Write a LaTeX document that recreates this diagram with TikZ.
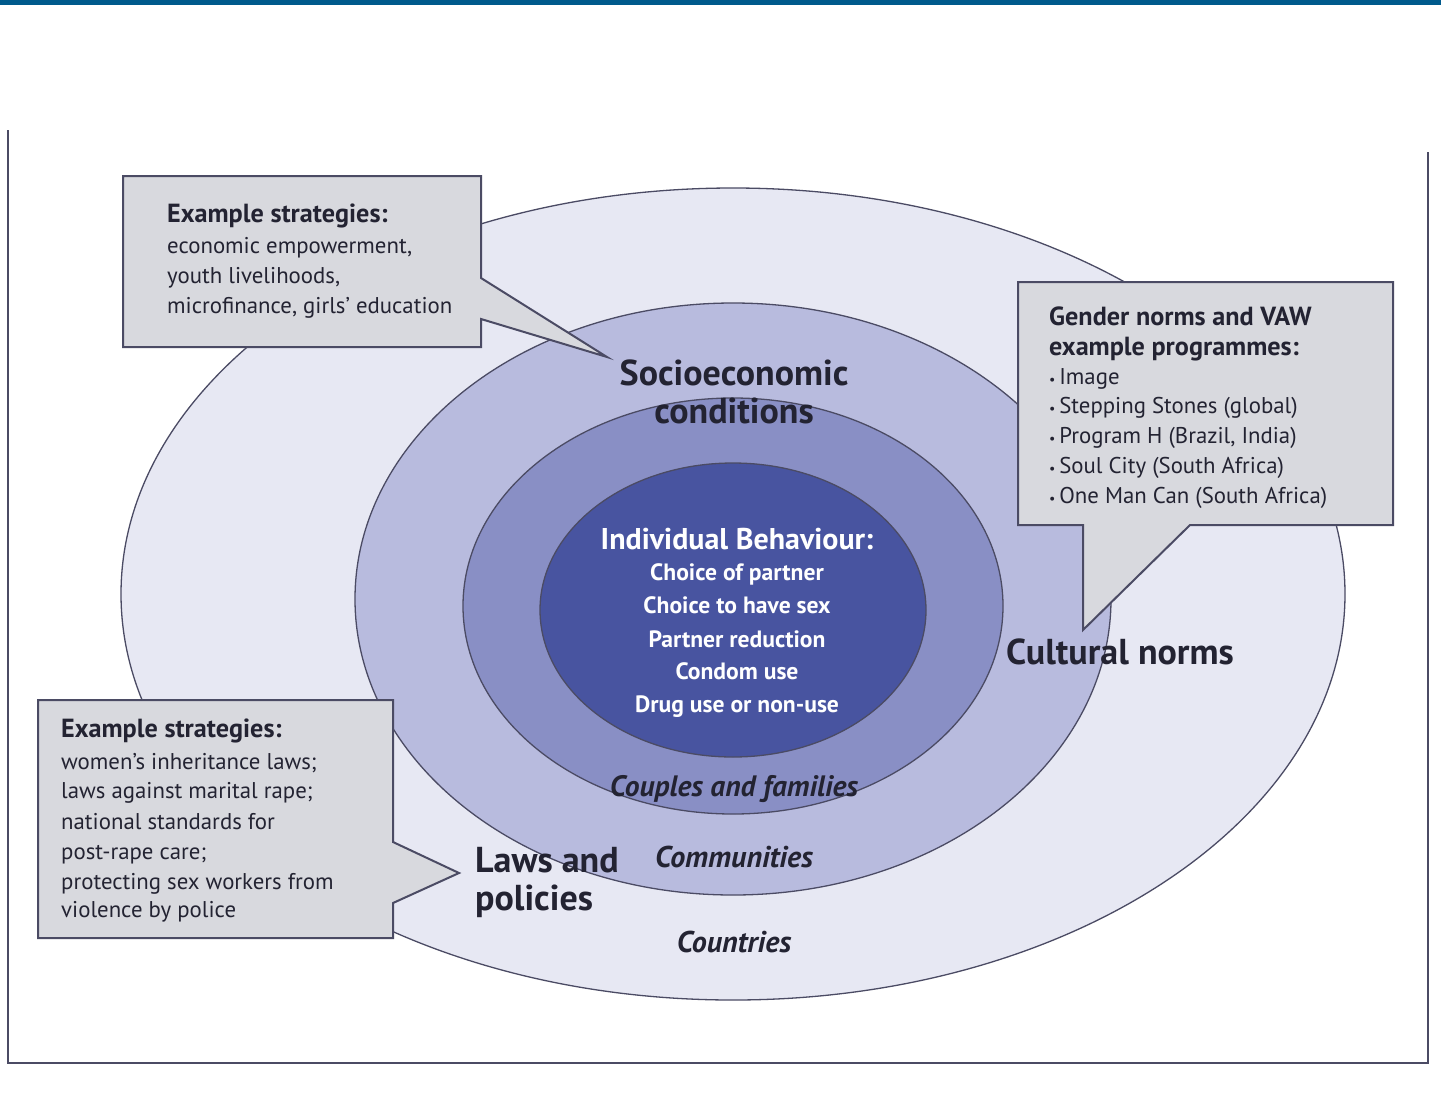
\documentclass[tikz,border=0pt]{standalone}
\usepackage{fontspec}
\setmainfont{PT Sans}
\definecolor{ringA}{RGB}{231,232,243}
\definecolor{ringB}{RGB}{184,187,222}
\definecolor{ringC}{RGB}{137,143,197}
\definecolor{ringD}{RGB}{72,84,160}
\definecolor{boxfill}{RGB}{216,217,222}
\definecolor{edge}{RGB}{75,75,100}
\definecolor{ink}{RGB}{35,35,50}
\definecolor{topbar}{RGB}{0,90,140}
\begin{document}
\begin{tikzpicture}[x=1pt,y=-1pt,
  ring/.style={draw=edge,line width=1.3pt},
  callout/.style={draw=edge,line width=2pt,fill=boxfill,line join=miter},
  boxtxt/.style={anchor=base west,inner sep=0pt,text=ink,font=\fontsize{22.8}{26}\selectfont},
  boxhead/.style={boxtxt,font=\fontsize{26.2}{29}\selectfont\bfseries},
  biglab/.style={inner sep=0pt,text=ink,font=\fontsize{36}{40}\selectfont\bfseries},
  inwhite/.style={anchor=base,inner sep=0pt,text=white,font=\fontsize{23.6}{26}\selectfont\bfseries},
  levlab/.style={anchor=base,inner sep=0pt,text=ink,font=\fontsize{30}{34}\selectfont\bfseries\itshape}]
\useasboundingbox (0,0) rectangle (1441,1096);
\fill[white] (0,0) rectangle (1441,1096);
\fill[topbar] (0,0) rectangle (1441,5);
% frame
\draw[edge,line width=2pt] (8,130) -- (8,1063) -- (1428,1063) -- (1428,152);
% rings
\draw[ring,fill=ringA] (733,594) ellipse [x radius=612,y radius=406];
\draw[ring,fill=ringB] (733,599) ellipse [x radius=378,y radius=296];
\draw[ring,fill=ringC] (733,606) ellipse [x radius=270,y radius=208];
\draw[ring,fill=ringD] (733,610) ellipse [x radius=193,y radius=147];
% callouts
\draw[callout] (123,176) -- (481,176) -- (481,278) -- (607,357) -- (481,319) -- (481,347) -- (123,347) -- cycle;
\draw[callout] (1018,282) -- (1393,282) -- (1393,525) -- (1190,525) -- (1083,630) -- (1083,525) -- (1018,525) -- cycle;
\draw[callout] (38,700) -- (393,700) -- (393,842) -- (459,873) -- (393,903) -- (393,938) -- (38,938) -- cycle;
% top-left text
\node[boxhead] (tl1) at (167,222) {Example strategies:};
\node[boxtxt] (tl2) at (167,253) {economic empowerment,};
\node[boxtxt] (tl3) at (167,283) {youth livelihoods,};
\node[boxtxt] (tl4) at (167,313) {microfinance, girls’ education};
% right text
\node[boxhead] (r1) at (1049,325) {Gender norms and VAW};
\node[boxhead] (r2) at (1049,355) {example programmes:};
\node[boxtxt] (r3) at (1049,384) {{\fontsize{14}{14}\selectfont\textbullet}\,Image};
\node[boxtxt] (r4) at (1049,413) {{\fontsize{14}{14}\selectfont\textbullet}\,Stepping Stones (global)};
\node[boxtxt] (r5) at (1049,443) {{\fontsize{14}{14}\selectfont\textbullet}\,Program H (Brazil, India)};
\node[boxtxt] (r6) at (1049,473) {{\fontsize{14}{14}\selectfont\textbullet}\,Soul City (South Africa)};
\node[boxtxt] (r7) at (1049,503) {{\fontsize{14}{14}\selectfont\textbullet}\,One Man Can (South Africa)};
% bottom-left text
\node[boxhead] (b1) at (61,737) {Example strategies:};
\node[boxtxt] (b2) at (61,769) {women’s inheritance laws;};
\node[boxtxt] (b3) at (61,798) {laws against marital rape;};
\node[boxtxt] (b4) at (61,829) {national standards for};
\node[boxtxt] (b5) at (61,859) {post-rape care;};
\node[boxtxt] (b6) at (61,889) {protecting sex workers from};
\node[boxtxt] (b7) at (61,917) {violence by police};
% big labels
\node[biglab,anchor=base] (se1) at (734,385) {Socioeconomic};
\node[biglab,anchor=base] (se2) at (734,423) {conditions};
\node[biglab,anchor=base west] (cn) at (1006,664) {Cultural norms};
\node[biglab,anchor=base west] (lp1) at (475,872) {Laws and};
\node[biglab,anchor=base west] (lp2) at (475,910) {policies};
% inner
\node[inwhite,font=\fontsize{30}{34}\selectfont\bfseries] (ib0) at (737,549) {Individual Behaviour:};
\node[inwhite] (ib1) at (737,580) {Choice of partner};
\node[inwhite] (ib2) at (737,613) {Choice to have sex};
\node[inwhite] (ib3) at (737,647) {Partner reduction};
\node[inwhite] (ib4) at (737,679) {Condom use};
\node[inwhite] (ib5) at (737,712) {Drug use or non-use};
% level labels
\node[levlab,font=\fontsize{29.5}{34}\selectfont\bfseries\itshape] (cf) at (734,796) {Couples and families};
\node[levlab] (cm) at (734,867) {Communities};
\node[levlab] (ct) at (734,952) {Countries};
\end{tikzpicture}
\end{document}
